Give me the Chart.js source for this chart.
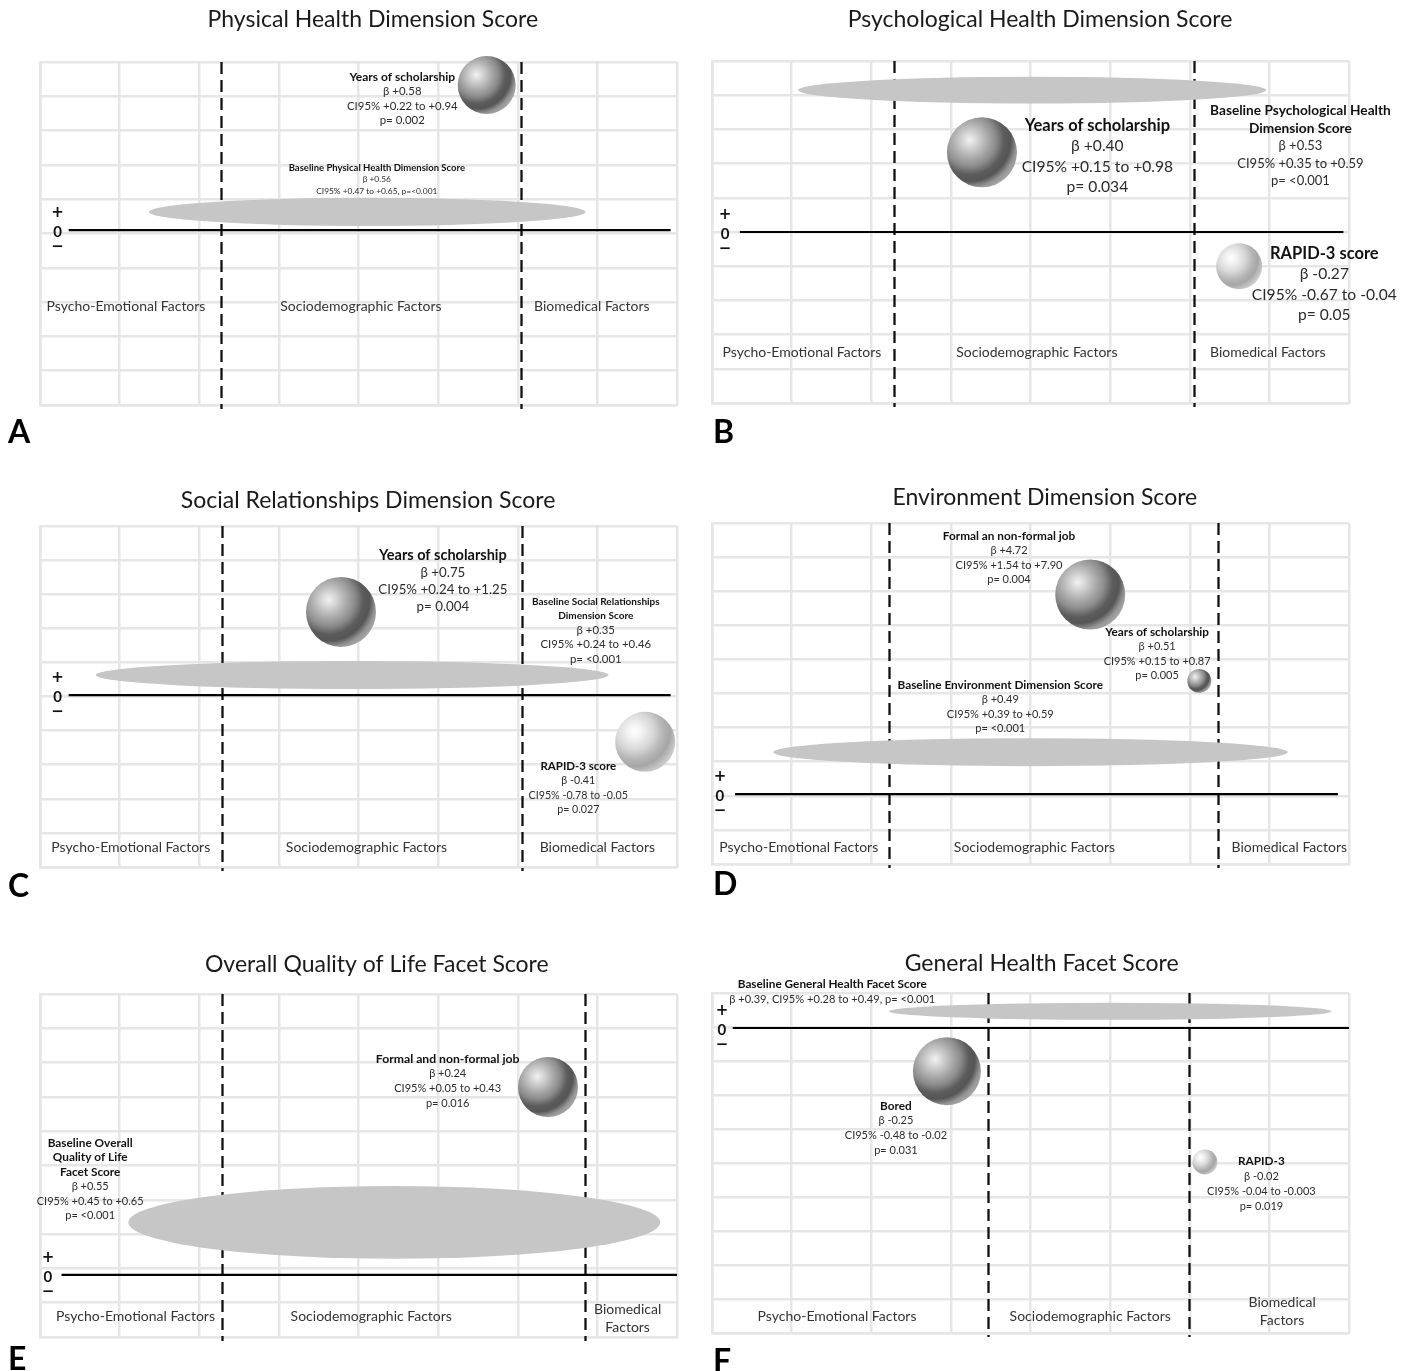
<!DOCTYPE html>
<html>
<head>
<meta charset="utf-8">
<script src="https://cdn.jsdelivr.net/npm/chart.js@4.4.1/dist/chart.umd.min.js"></script>
<style>
    body { margin: 0; background: #fff; width: 1412px; height: 1371px; position: relative; overflow: hidden; }
    canvas { position: absolute; }
</style>
</head>
<body>
<canvas id="pA"></canvas>
<canvas id="pB"></canvas>
<canvas id="pC"></canvas>
<canvas id="pD"></canvas>
<canvas id="pE"></canvas>
<canvas id="pF"></canvas>
<script>
var titles = ['Physical Health Dimension Score', 'Psychological Health Dimension Score', 'Social Relationships Dimension Score',
    'Environment Dimension Score', 'Overall Quality of Life Facet Score', 'General Health Facet Score']
var letters = ['A', 'B', 'C', 'D', 'E', 'F']
var factors = ['Psycho-Emotional Factors', 'Sociodemographic Factors', 'Biomedical Factors']

// grid is 8 columns x 10 rows, values below are in those units
var splits = [[2.27, 6.04], [2.28, 6.05], [2.29, 6.05], [2.22, 6.36], [2.29, 6.84], [3.46, 5.99]]
var zeros = [5.1, 5.0, 5.04, 2.05, 1.81, 8.97]
var zeroSpan = [[0.36, 7.92], [0.35, 7.93], [0.36, 7.92], [0.29, 7.86], [0.27, 8], [0.26, 8]]

// predictors (bubble: x column, y row, r size)
var spheresA = [{x: 5.61, y: 9.33, r: 29}]
var spheresB = [{x: 3.39, y: 7.33, r: 35}, {x: 6.62, y: 4.0, r: 23, light: true}]
var spheresC = [{x: 3.78, y: 7.48, r: 35}, {x: 7.6, y: 3.67, r: 30, light: true}]
var spheresD = [{x: 4.75, y: 7.9, r: 35}, {x: 6.12, y: 5.37, r: 12}]
var spheresE = [{x: 6.38, y: 7.29, r: 30}]
var spheresF = [{x: 2.95, y: 7.7, r: 34}, {x: 6.19, y: 5.03, r: 12.5, light: true}]

// baseline score: centre and half extent
var baselines = [
    {x: 4.11, y: 5.63, w: 2.74, h: 0.41},
    {x: 4.02, y: 9.15, w: 2.94, h: 0.39},
    {x: 3.92, y: 5.63, w: 3.22, h: 0.41},
    {x: 4.0, y: 3.28, w: 3.23, h: 0.41},
    {x: 4.45, y: 3.34, w: 3.34, h: 1.06},
    {x: 5.0, y: 9.46, w: 2.78, h: 0.25}
]

var notesA = [
    ['Years of scholarship', 'β +0.58', 'CI95% +0.22 to +0.94', 'p= 0.002'],
    ['Baseline Physical Health Dimension Score', 'β +0.56', 'CI95% +0.47 to +0.65, p=<0.001']
]
var notesB = [
    ['Years of scholarship', 'β +0.40', 'CI95% +0.15 to +0.98', 'p= 0.034'],
    ['Baseline Psychological Health', 'Dimension Score', 'β +0.53', 'CI95% +0.35 to +0.59', 'p= <0.001'],
    ['RAPID-3 score', 'β -0.27', 'CI95% -0.67 to -0.04', 'p= 0.05']
]
var notesC = [
    ['Years of scholarship', 'β +0.75', 'CI95% +0.24 to +1.25', 'p= 0.004'],
    ['Baseline Social Relationships', 'Dimension Score', 'β +0.35', 'CI95% +0.24 to +0.46', 'p= <0.001'],
    ['RAPID-3 score', 'β -0.41', 'CI95% -0.78 to -0.05', 'p= 0.027']
]
var notesD = [
    ['Formal an non-formal job', 'β +4.72', 'CI95% +1.54 to +7.90', 'p= 0.004'],
    ['Years of scholarship', 'β +0.51', 'CI95% +0.15 to +0.87', 'p= 0.005'],
    ['Baseline Environment Dimension Score', 'β +0.49', 'CI95% +0.39 to +0.59', 'p= <0.001']
]
var notesE = [
    ['Formal and non-formal job', 'β +0.24', 'CI95% +0.05 to +0.43', 'p= 0.016'],
    ['Baseline Overall', 'Quality of Life', 'Facet Score', 'β +0.55', 'CI95% +0.45 to +0.65', 'p= <0.001']
]
var notesF = [
    ['Baseline General Health Facet Score', 'β +0.39, CI95% +0.28 to +0.49, p= <0.001'],
    ['Bored', 'β -0.25', 'CI95% -0.48 to -0.02', 'p= 0.031'],
    ['RAPID-3', 'β -0.02', 'CI95% -0.04 to -0.003', 'p= 0.019']
]

// where each note sits: [column, row, body px, line gap px, bold lines, header px]
var spotsA = [[4.55, 9.56, 11.4, 14.5, 1, 12], [4.23, 6.91, 8.4, 11.5, 1, 9.5]]
var spotsB = [[4.84, 8.1, 15.6, 20.3, 1, 16.5], [7.39, 8.54, 13, 17.5, 2, 13.7], [7.69, 4.36, 15.6, 20.3, 1, 16.5]]
var spotsC = [[5.06, 9.15, 13.3, 17.3, 1, 14.5], [6.98, 7.77, 11.4, 14.2, 2, 10], [6.76, 2.96, 10.7, 14.6, 1, 11.5]]
var spotsD = [[3.73, 9.62, 11, 14.6, 1, 11.8], [5.59, 6.8, 11, 14.6, 1, 11.8], [3.62, 5.25, 11, 14.6, 1, 11.8]]
var spotsE = [[5.12, 8.1, 11, 14.7, 1, 12.2], [0.63, 5.66, 11, 14.6, 3, 11.8]]
var spotsF = [[1.51, 10.26, 11.1, 15, 1, 11.8], [2.31, 6.68, 11, 14.7, 1, 11.8], [6.9, 5.06, 11, 15, 1, 11.8]]

var factorX = [[1.08, 4.03, 6.93], [1.13, 4.08, 6.98], [1.14, 4.1, 7.0], [1.09, 4.05, 7.25], [1.2, 4.16, 7.38], [1.57, 4.75, 7.16]]
var factorY = [[2.86, 2.86, 2.86], [1.49, 1.49, 1.49], [0.56, 0.56, 0.56], [0.47, 0.47, 0.47], [0.61, 0.61, 0.55], [0.5, 0.5, 0.62]]
var wrapBio = [false, false, false, false, true, true]
var signX = [0.22, 0.165, 0.22, 0.1, 0.1, 0.125]
var titleX = [4.18, 4.12, 4.12, 4.18, 4.23, 4.14]

var spheres = [spheresA, spheresB, spheresC, spheresD, spheresE, spheresF]
var notes = [notesA, notesB, notesC, notesD, notesE, notesF]
var spots = [spotsA, spotsB, spotsC, spotsD, spotsE, spotsF]

// page layout
var canvasBoxes = [[0, 0, 700, 460], [700, 0, 712, 460], [0, 460, 700, 465], [700, 460, 712, 465], [0, 925, 700, 446], [700, 925, 712, 446]]
var gridBoxes = [[40, 62, 677, 405], [712, 61, 1349, 403], [40, 526, 677, 867], [712, 523, 1349, 864], [40, 994, 677, 1337], [712, 993, 1349, 1333]]
var titleGap = [42, 41, 25, 25, 29, 29]
var letterGap = [28, 30, 20, 21, 23, 29]

var FONT = 'Lato, "Open Sans", sans-serif'

// shaded ball: light spot top-left, dark core bottom-right, brighter rim
function sphereFill(ctx, x, y, r, light) {
    var fx = x - r * 0.35, fy = y - r * 0.35
    var g = ctx.createRadialGradient(fx, fy, 0, fx, fy, r * 1.5)
    if (light) {
        g.addColorStop(0, '#ffffff')
        g.addColorStop(0.15, '#f3f3f3')
        g.addColorStop(0.4, '#d9d9d9')
        g.addColorStop(0.62, '#b6b6b6')
        g.addColorStop(0.78, '#a6a6a6')
        g.addColorStop(0.92, '#c3c3c3')
        g.addColorStop(1, '#d0d0d0')
    } else {
        g.addColorStop(0, '#f2f2f2')
        g.addColorStop(0.12, '#d9d9d9')
        g.addColorStop(0.35, '#a9a9a9')
        g.addColorStop(0.5, '#8c8c8c')
        g.addColorStop(0.66, '#5c5c5c')
        g.addColorStop(0.78, '#555555')
        g.addColorStop(0.9, '#959595')
        g.addColorStop(1, '#a8a8a8')
    }
    return g
}

function panelPlugin(i) {
    return {
        id: 'panel' + i,
        beforeDatasetsDraw: function (chart) {
            var ctx = chart.ctx, sx = chart.scales.x, sy = chart.scales.y, a = chart.chartArea
            ctx.save()
            //分组虚线
            ctx.strokeStyle = '#111'
            ctx.lineWidth = 2.3
            ctx.setLineDash([12, 6])
            splits[i].forEach(function (v) {
                var px = Math.round(sx.getPixelForValue(v)) + 0.5
                ctx.beginPath()
                ctx.moveTo(px, a.top)
                ctx.lineTo(px, a.bottom + 4)
                ctx.stroke()
            })
            ctx.setLineDash([])
            //基线椭圆
            var e = baselines[i]
            var cx = sx.getPixelForValue(e.x), cy = sy.getPixelForValue(e.y)
            var rx = sx.getPixelForValue(e.x + e.w) - cx
            var ry = cy - sy.getPixelForValue(e.y + e.h)
            ctx.fillStyle = '#c6c6c6'
            ctx.beginPath()
            ctx.ellipse(cx, cy, rx, ry, 0, 0, Math.PI * 2)
            ctx.fill()
            //零线
            var zy = sy.getPixelForValue(zeros[i])
            ctx.strokeStyle = '#000'
            ctx.lineWidth = 2.2
            ctx.beginPath()
            ctx.moveTo(sx.getPixelForValue(zeroSpan[i][0]), zy)
            ctx.lineTo(sx.getPixelForValue(zeroSpan[i][1]), zy)
            ctx.stroke()
            ctx.restore()
        },
        afterDatasetsDraw: function (chart) {
            var ctx = chart.ctx, sx = chart.scales.x, sy = chart.scales.y, a = chart.chartArea
            ctx.save()
            ctx.textAlign = 'center'
            ctx.textBaseline = 'middle'
            // + 0 -
            var zy = sy.getPixelForValue(zeros[i]), gx = sx.getPixelForValue(signX[i])
            ctx.fillStyle = '#111'
            ctx.font = 'bold 15px "DejaVu Sans", sans-serif'
            ctx.fillText('+', gx, zy - 17)
            ctx.fillText('\u2212', gx, zy + 17)
            ctx.font = 'bold 15px ' + FONT
            ctx.fillText('0', gx, zy + 2)
            // notes
            notes[i].forEach(function (lines, k) {
                var s = spots[i][k]
                var x = sx.getPixelForValue(s[0]), y = sy.getPixelForValue(s[1])
                lines.forEach(function (t, j) {
                    var bold = j < s[4]
                    ctx.font = (bold ? 'bold ' + s[5] : s[2]) + 'px ' + FONT
                    ctx.fillStyle = bold ? '#111' : '#2b2b2b'
                    ctx.fillText(t, x, y + j * s[3])
                })
            })
            // factor groups
            ctx.font = '14px ' + FONT
            ctx.fillStyle = '#333'
            factors.forEach(function (f, k) {
                var x = sx.getPixelForValue(factorX[i][k]), y = sy.getPixelForValue(factorY[i][k])
                if (k == 2 && wrapBio[i]) {
                    ctx.fillText('Biomedical', x, y - 9)
                    ctx.fillText('Factors', x, y + 9)
                } else {
                    ctx.fillText(f, x, y)
                }
            })
            // title and panel letter
            ctx.font = '23px ' + FONT
            ctx.fillStyle = '#1a1a1a'
            ctx.fillText(titles[i], sx.getPixelForValue(titleX[i]), a.top - titleGap[i])
            ctx.font = 'bold 32px ' + FONT
            ctx.textAlign = 'left'
            ctx.fillStyle = '#000'
            ctx.fillText(letters[i], i % 2 == 0 ? 8 : 13, a.bottom + letterGap[i])
            ctx.restore()
        }
    }
}

letters.forEach(function (l, i) {
    var cb = canvasBoxes[i], gb = gridBoxes[i]
    var el = document.getElementById('p' + l)
    el.width = cb[2]
    el.height = cb[3]
    el.style.left = cb[0] + 'px'
    el.style.top = cb[1] + 'px'
    var gridOpts = {color: '#e6e6e6', lineWidth: 2.5, drawTicks: false}
    new Chart(el.getContext('2d'), {
        type: 'bubble',
        data: {
            datasets: [{
                data: spheres[i],
                borderWidth: 0,
                hoverRadius: 0,
                clip: false,
                backgroundColor: function (c) {
                    var p = c.raw, ch = c.chart
                    if (!p || !ch.chartArea) return '#888'
                    var x = ch.scales.x.getPixelForValue(p.x), y = ch.scales.y.getPixelForValue(p.y)
                    return sphereFill(ch.ctx, x, y, p.r, p.light)
                }
            }]
        },
        options: {
            responsive: false,
            animation: false,
            events: [],
            layout: {
                autoPadding: false,
                padding: {left: gb[0] - cb[0], top: gb[1] - cb[1], right: cb[0] + cb[2] - gb[2], bottom: cb[1] + cb[3] - gb[3]}
            },
            plugins: {legend: {display: false}, tooltip: {enabled: false}, title: {display: false}},
            scales: {
                x: {type: 'linear', min: 0, max: 8, ticks: {display: false, stepSize: 1}, grid: gridOpts, border: {color: '#e6e6e6', width: 2.5}},
                y: {type: 'linear', min: 0, max: 10, ticks: {display: false, stepSize: 1}, grid: gridOpts, border: {color: '#e6e6e6', width: 2.5}}
            }
        },
        plugins: [panelPlugin(i)]
    })
})
</script>
</body>
</html>
